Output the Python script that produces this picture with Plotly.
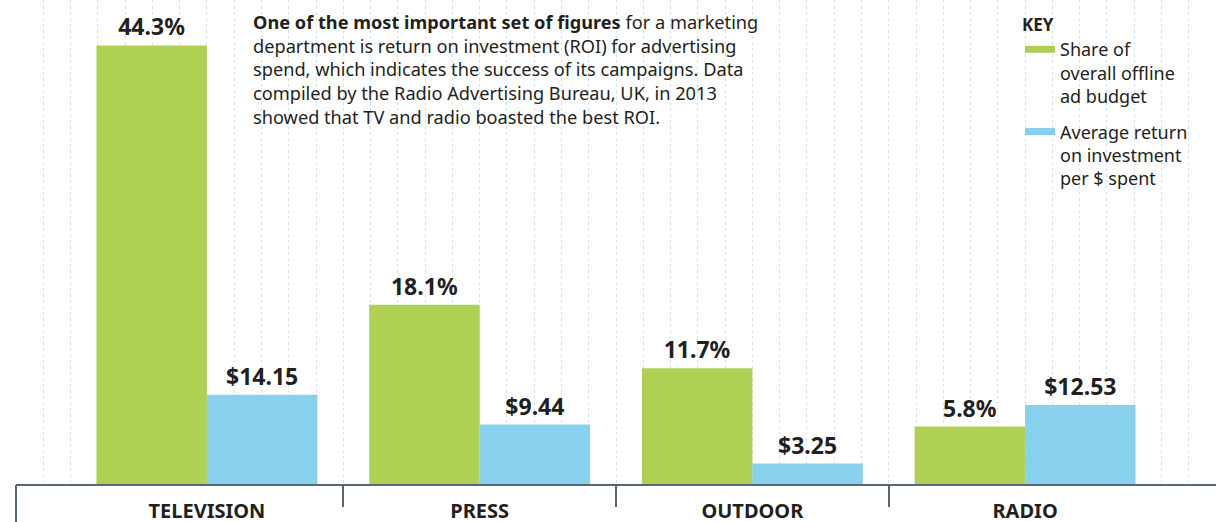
import plotly.graph_objects as go

categories = ["TELEVISION", "PRESS", "OUTDOOR", "RADIO"]
share_pct = [44.3, 18.1, 11.7, 5.8]
roi_dollars = [14.15, 9.44, 3.25, 12.53]
share_labels = ["44.3%", "18.1%", "11.7%", "5.8%"]
roi_labels = ["$14.15", "$9.44", "$3.25", "$12.53"]
legend_names = ["Share of<br>overall offline<br>ad budget",
                "Average return<br>on investment<br>per $ spent"]

GREEN = "#aed053"
BLUE = "#87d1ee"
DARK = "#231f20"
FONT = "Noto Sans"

xpos = list(range(len(categories)))
XR = [-0.7, 3.7]
BW = 0.405

fig = go.Figure()

fig.add_trace(go.Bar(
    x=xpos, y=share_pct, width=BW, offset=-BW, marker=dict(color=GREEN, line=dict(width=0)),
    text=share_labels, textposition="outside", cliponaxis=False, constraintext="none",
    textfont=dict(family=FONT, size=23, color=DARK, weight="bold"),
    showlegend=False, xaxis="x", yaxis="y", hoverinfo="skip"))

fig.add_trace(go.Bar(
    x=xpos, y=roi_dollars, width=BW, offset=0, marker=dict(color=BLUE, line=dict(width=0)),
    text=roi_labels, textposition="outside", cliponaxis=False, constraintext="none",
    textfont=dict(family=FONT, size=23, color=DARK, weight="bold"),
    showlegend=False, xaxis="x", yaxis="y2", hoverinfo="skip"))

# legend entries (line swatches); placed on the overlay axes so those axes get drawn
for i, (name, col, xa) in enumerate(zip(legend_names, [GREEN, BLUE], ["x2", "x3"])):
    fig.add_trace(go.Scatter(x=[None], y=[None], mode="lines", name=name,
                             legendgroup=f"g{i}",
                             line=dict(color=col, width=7), xaxis=xa, yaxis="y"))

desc = ("<b>One of the most important set of figures</b> for a marketing<br>"
        "department is return on investment (ROI) for advertising<br>"
        "spend, which indicates the success of its campaigns. Data<br>"
        "compiled by the Radio Advertising Bureau, UK, in 2013<br>"
        "showed that TV and radio boasted the best ROI.")

fig.add_annotation(text=desc, xref="paper", yref="paper", x=(251 - 16) / 1200, y=1 - 8 / 484,
                   xanchor="left", yanchor="top", align="left", showarrow=False,
                   font=dict(family=FONT, size=18.2, color=DARK))

fig.update_layout(
    width=1216, height=522,
    margin=dict(l=16, r=0, t=0, b=38, autoexpand=False),
    paper_bgcolor="white", plot_bgcolor="white",
    font=dict(family=FONT, color=DARK),
    xaxis=dict(range=XR, tickmode="array", tickvals=xpos, ticktext=categories,
               ticks="", showgrid=False, zeroline=False, showline=True, automargin=False,
               linecolor="#55697a", linewidth=2, ticklabelstandoff=8,
               tickfont=dict(family=FONT, size=20, color=DARK, weight="bold")),
    xaxis2=dict(overlaying="x", matches="x", range=XR, anchor="y", side="bottom",
                tickmode="linear", tick0=0.5, dtick=0.1, showticklabels=False, ticks="",
                showgrid=True, gridcolor="#d6e3ec", griddash="dot", gridwidth=1,
                zeroline=False, showline=False, automargin=False),
    xaxis3=dict(overlaying="x", matches="x", range=XR, anchor="y", side="bottom",
                tickmode="array", tickvals=[XR[0]], ticks="outside", ticklen=40,
                tickwidth=2, tickcolor="#55697a", showticklabels=False, showgrid=False,
                zeroline=False, showline=False, automargin=False,
                minor=dict(tickmode="array", tickvals=[0.5, 1.5, 2.5], ticks="outside",
                           ticklen=22, tickwidth=2, tickcolor="#55697a", showgrid=False)),
    yaxis=dict(range=[0, 484 / 9.9], visible=False, fixedrange=True, automargin=False),
    yaxis2=dict(range=[0, 484 / 6.3], overlaying="y", visible=False, automargin=False),
    legend=dict(x=(1020 - 16) / 1200, y=1 - 9 / 484, xanchor="left", yanchor="top",
                bgcolor="rgba(0,0,0,0)", valign="top", tracegroupgap=9,
                title=dict(text="<b>KEY</b>", font=dict(family=FONT, size=17, color=DARK)),
                font=dict(family=FONT, size=18, color=DARK)),
)

fig.write_html("out.html", post_script="document.body.style.margin='0';",
               config={"displayModeBar": False})
